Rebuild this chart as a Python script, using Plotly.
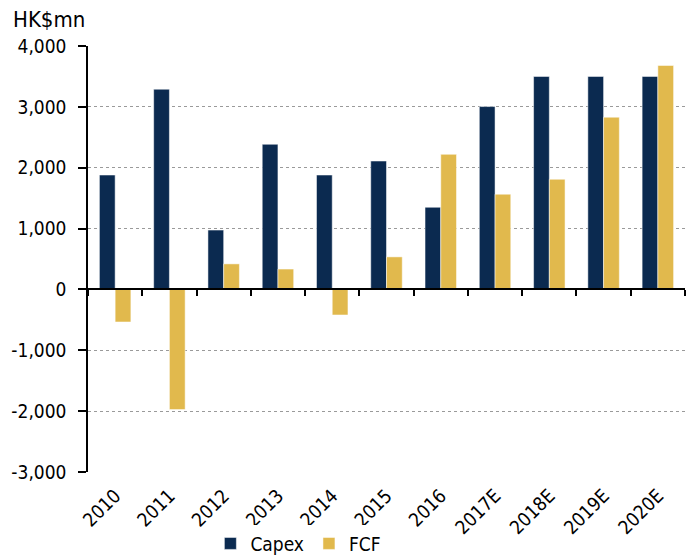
import plotly.graph_objects as go

years = ["2010", "2011", "2012", "2013", "2014", "2015", "2016",
         "2017E", "2018E", "2019E", "2020E"]
capex = [1880, 3290, 975, 2385, 1880, 2110, 1350, 3005, 3500, 3500, 3500]
fcf = [-535, -1975, 420, 335, -420, 535, 2220, 1565, 1810, 2830, 3680]

y_ticks = [-3000, -2000, -1000, 0, 1000, 2000, 3000, 4000]
y_labels = ["-3,000", "-2,000", "-1,000", "0", "1,000", "2,000", "3,000", "4,000"]

NAVY = "#0b2a50"
GOLD = "#e1b94d"
FONT = "DejaVu Sans Condensed, Liberation Sans, sans-serif"

fig = go.Figure()
fig.add_trace(go.Bar(x=years, y=capex, name="Capex", marker_color=NAVY,
                     marker_line=dict(color="rgba(255,255,255,0.5)", width=1)))
fig.add_trace(go.Bar(x=years, y=fcf, name="FCF", marker_color=GOLD,
                     marker_line=dict(color="rgba(255,255,255,0.5)", width=1)))
# invisible trace so the zero-line axis gets drawn
fig.add_trace(go.Scatter(x=years, y=[0] * len(years), xaxis="x2", mode="none",
                         showlegend=False, hoverinfo="skip"))

fig.update_layout(
    width=692, height=556,
    margin=dict(l=88, r=7, t=46, b=84, autoexpand=False),
    plot_bgcolor="white", paper_bgcolor="white",
    font=dict(family=FONT, size=19, color="black"),
    barmode="group", bargap=0.42, bargroupgap=0,
    showlegend=True,
    legend=dict(orientation="h", x=0.205, xanchor="left", y=-0.168, yanchor="middle",
                font=dict(size=19), itemwidth=30, tracegroupgap=0),
    xaxis=dict(type="category", range=[-0.5, 10.5], showline=False, ticks="",
               tickangle=-45, showgrid=False, zeroline=False, automargin=False,
               ticklabelstandoff=8),
    xaxis2=dict(type="category", range=[-0.5, 10.5], overlaying="x", anchor="free",
                position=3 / 7, side="bottom", showline=True, linecolor="black",
                linewidth=1.5, ticks="outside", tickson="boundaries", ticklen=6,
                tickcolor="black", tickwidth=1.5, showticklabels=False, showgrid=False,
                zeroline=False, categoryorder="array", categoryarray=years),
    yaxis=dict(range=[-3000, 4000], tickvals=y_ticks, ticktext=y_labels,
               showline=True, linecolor="black", linewidth=1.5, ticks="outside",
               ticklen=8, tickcolor="black", tickwidth=1.5, showgrid=True,
               gridcolor="#9a9a9a", griddash="dot", gridwidth=1, zeroline=False,
               ticklabelstandoff=8, automargin=False),
    annotations=[dict(text="HK$mn", xref="paper", yref="paper", x=0, y=1,
                      xanchor="left", yanchor="bottom", xshift=-77, yshift=12,
                      showarrow=False, font=dict(size=22))],
)

fig.write_html("out.html", config={"displayModeBar": False},
               post_script="document.body.style.margin='0';")
